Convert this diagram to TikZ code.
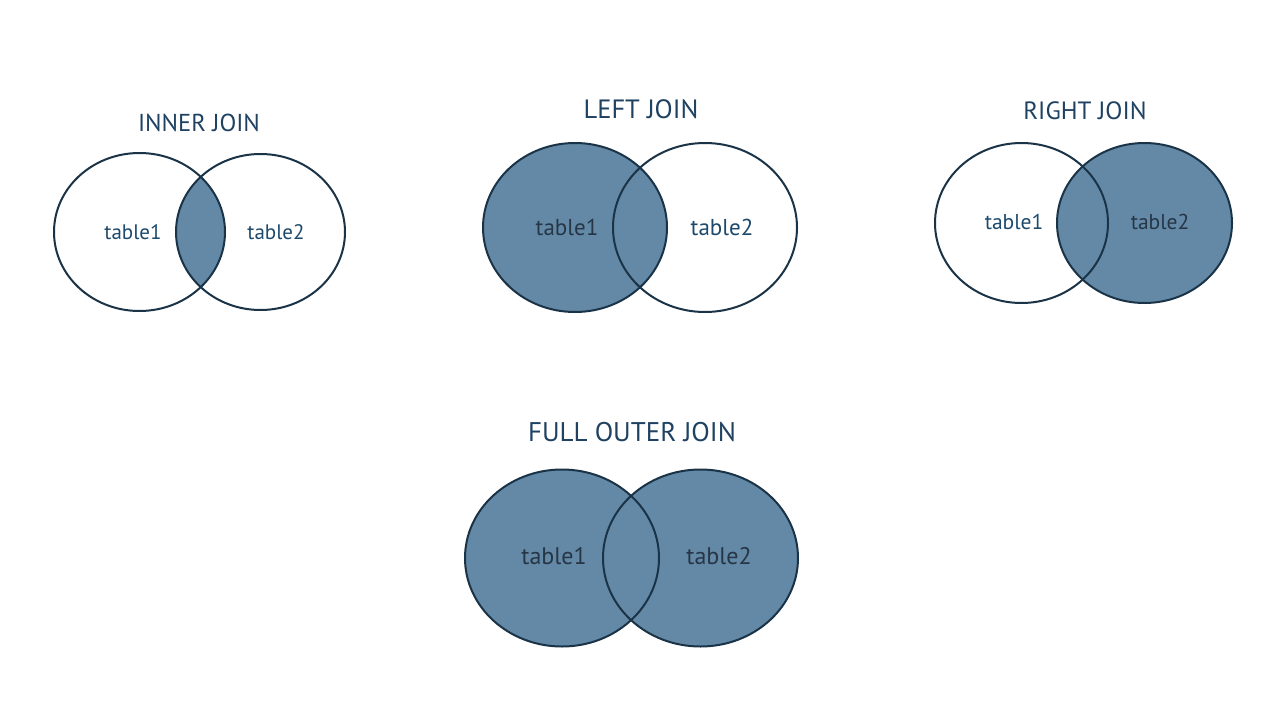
\documentclass[tikz,border=0pt]{standalone}
\usepackage{fontspec}
\setmainfont{PT Sans}
\definecolor{fillblue}{HTML}{6389A7}
\definecolor{edge}{HTML}{1B3346}
\definecolor{titlec}{HTML}{1F4262}
\definecolor{lightlbl}{HTML}{1D4A6C}
\definecolor{darklbl}{HTML}{263646}
\newcommand{\fsz}[1]{\fontsize{#1}{#1}\selectfont}
\begin{document}
\begin{tikzpicture}[x=1pt,y=-1pt,
  outline/.style={draw=edge,line width=2pt},
  shade/.style={fill=fillblue},
  title/.style={text=titlec},
  lbllight/.style={text=lightlbl},
  lbldark/.style={text=darklbl}]
\path[fill=white] (0,0) rectangle (1280,720);
\useasboundingbox (0,0) rectangle (1280,720);

% ---------- INNER JOIN ----------
\begin{scope}
  \clip (139.5,232) ellipse [x radius=85.5, y radius=79];
  \fill[shade] (260.5,232) ellipse [x radius=84.5, y radius=78];
\end{scope}
\draw[outline] (139.5,232) ellipse [x radius=85.5, y radius=79];
\draw[outline] (260.5,232) ellipse [x radius=84.5, y radius=78];
\node[title,font=\fsz{24.5}] (t1) at (199,123) {INNER JOIN};
\node[lbllight,font=\fsz{21}] (i1) at (133,232) {table1};
\node[lbllight,font=\fsz{21}] (i2) at (276,232) {table2};

% ---------- LEFT JOIN ----------
\fill[shade] (575,227.5) ellipse [x radius=92, y radius=84.5];
\draw[outline] (705,227.5) ellipse [x radius=92, y radius=84.5];
\draw[outline] (575,227.5) ellipse [x radius=92, y radius=84.5];
\node[title,font=\fsz{26.5}] (t2) at (641,109) {LEFT JOIN};
\node[lbldark,font=\fsz{23}] (l1) at (567,227) {table1};
\node[lbllight,font=\fsz{23}] (l2) at (722,227) {table2};

% ---------- RIGHT JOIN ----------
\fill[shade] (1144.5,223) ellipse [x radius=87.5, y radius=80];
\draw[outline] (1021.5,223) ellipse [x radius=86.5, y radius=80];
\draw[outline] (1144.5,223) ellipse [x radius=87.5, y radius=80];
\node[title,font=\fsz{25}] (t3) at (1085,111) {RIGHT JOIN};
\node[lbllight,font=\fsz{21.5}] (r1) at (1014,222) {table1};
\node[lbldark,font=\fsz{21.5}] (r2) at (1160,222) {table2};

% ---------- FULL OUTER JOIN ----------
\fill[shade] (562,558) ellipse [x radius=97, y radius=88.5];
\fill[shade] (700.5,558) ellipse [x radius=97.5, y radius=88.5];
\draw[outline] (562,558) ellipse [x radius=97, y radius=88.5];
\draw[outline] (700.5,558) ellipse [x radius=97.5, y radius=88.5];
\node[title,font=\fsz{27}] (t4) at (632,432) {FULL OUTER JOIN};
\node[lbldark,font=\fsz{24}] (f1) at (554,556) {table1};
\node[lbldark,font=\fsz{24}] (f2) at (719,556) {table2};
\end{tikzpicture}
\end{document}
